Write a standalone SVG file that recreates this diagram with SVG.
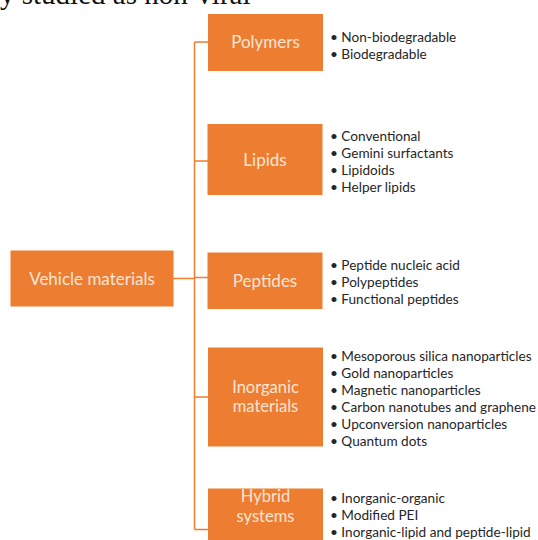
<svg xmlns="http://www.w3.org/2000/svg" width="538" height="540" viewBox="0 0 538 540">
  <style>
    .box { fill: #ED7D31; }
    .lbl { font-family: Lato, "Open Sans", sans-serif; font-size: 17px; fill: #FBE5D6; text-anchor: middle; }
    .lbl2 { font-family: Lato, "Open Sans", sans-serif; font-size: 16.5px; fill: #FBE5D6; text-anchor: middle; }
    .item { font-family: Lato, "Open Sans", sans-serif; font-size: 13.6px; fill: #262626; }
    .wire { stroke: #ED7D31; stroke-width: 1.5; fill: none; }
    .cap { font-family: "Liberation Serif", serif; font-size: 29px; fill: #111; }
  </style>
  <rect width="538" height="540" fill="#ffffff"/>

  <!-- running caption line from the page above, clipped at the top edge -->
  <text class="cap" x="0" y="4">y studied as non-viral</text>

  <!-- connectors -->
  <g id="connectors">
    <path class="wire" d="M173,278.5 H194.5"/>
    <path class="wire" d="M194.5,42 V529.5"/>
    <path class="wire" d="M194.5,42 H208"/>
    <path class="wire" d="M194.5,161 H208"/>
    <path class="wire" d="M194.5,277.5 H208"/>
    <path class="wire" d="M194.5,397 H208"/>
    <path class="wire" d="M194.5,529.5 H208"/>
  </g>

  <g id="vehicle-materials">
    <rect class="box" x="10.5" y="250.5" width="163" height="56"/>
    <text class="lbl" x="92" y="284.5">Vehicle materials</text>
  </g>

  <g id="polymers">
    <rect class="box" x="208" y="14" width="115" height="57"/>
    <text class="lbl" x="265.5" y="48">Polymers</text>
    <g class="item">
      <text x="330" y="41.5">•  Non-biodegradable</text>
      <text x="330" y="58.5">•  Biodegradable</text>
    </g>
  </g>

  <g id="lipids">
    <rect class="box" x="207.5" y="124" width="115" height="71"/>
    <text class="lbl" x="265" y="166">Lipids</text>
    <g class="item">
      <text x="330" y="140.5">•  Conventional</text>
      <text x="330" y="157.5">•  Gemini surfactants</text>
      <text x="330" y="174.5">•  Lipidoids</text>
      <text x="330" y="191.5">•  Helper lipids</text>
    </g>
  </g>

  <g id="peptides">
    <rect class="box" x="207.5" y="252.5" width="115" height="56.5"/>
    <text class="lbl" x="265" y="287">Peptides</text>
    <g class="item">
      <text x="330" y="270">•  Peptide nucleic acid</text>
      <text x="330" y="287">•  Polypeptides</text>
      <text x="330" y="304">•  Functional peptides</text>
    </g>
  </g>

  <g id="inorganic-materials">
    <rect class="box" x="208" y="347.5" width="115" height="99"/>
    <text class="lbl2" x="265.5" y="392.5">Inorganic</text>
    <text class="lbl2" x="265.5" y="412">materials</text>
    <g class="item">
      <text x="330" y="361">•  Mesoporous silica nanoparticles</text>
      <text x="330" y="378">•  Gold nanoparticles</text>
      <text x="330" y="395">•  Magnetic nanoparticles</text>
      <text x="330" y="412">•  Carbon nanotubes and graphene</text>
      <text x="330" y="429">•  Upconversion nanoparticles</text>
      <text x="330" y="446">•  Quantum dots</text>
    </g>
  </g>

  <g id="hybrid-systems">
    <rect class="box" x="208" y="488.5" width="115" height="80"/>
    <text class="lbl2" x="265.5" y="502">Hybrid</text>
    <text class="lbl2" x="265.5" y="521.5">systems</text>
    <g class="item">
      <text x="330" y="503">•  Inorganic-organic</text>
      <text x="330" y="520">•  Modified PEI</text>
      <text x="330" y="537">•  Inorganic-lipid and peptide-lipid</text>
    </g>
  </g>
</svg>
